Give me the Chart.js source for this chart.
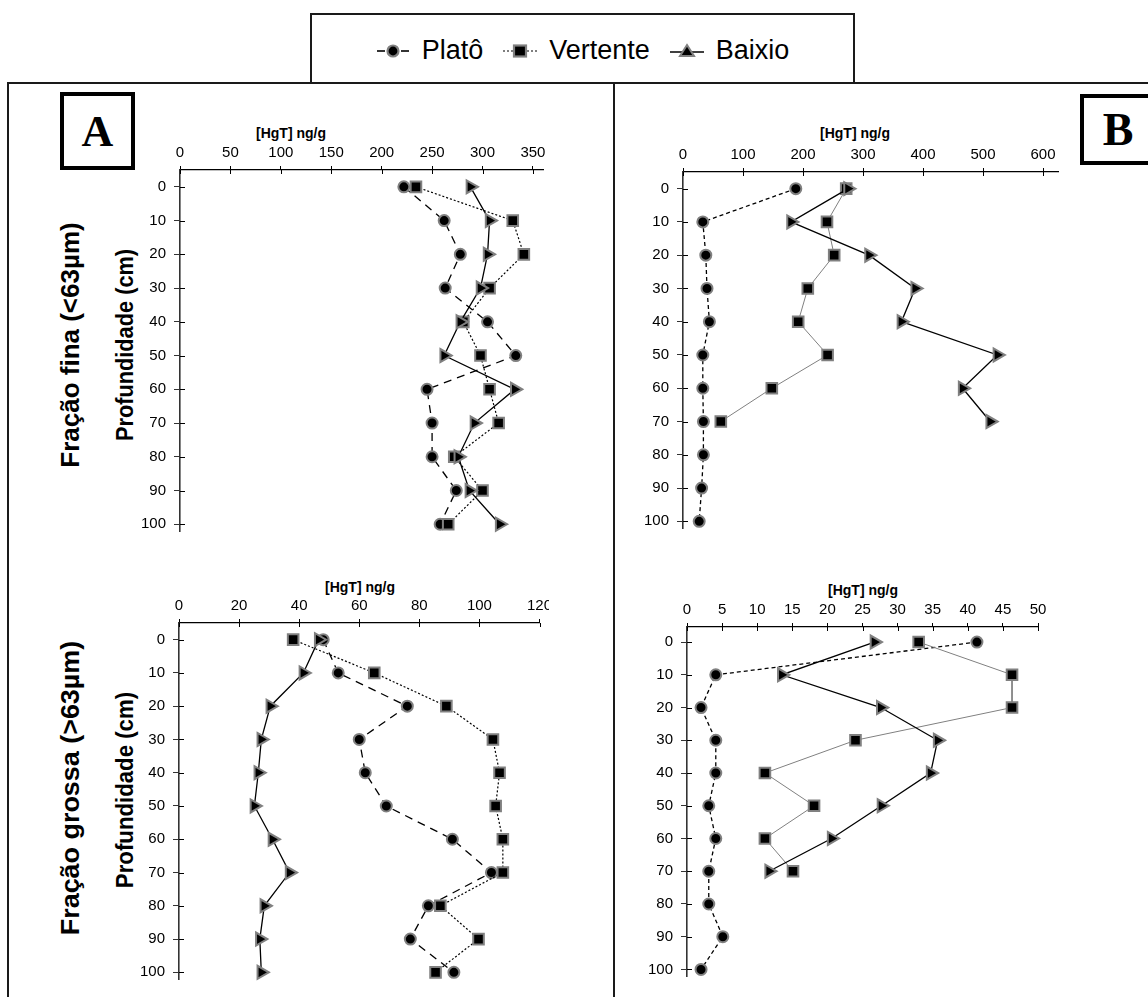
<!DOCTYPE html>
<html><head><meta charset="utf-8">
<script src="https://cdn.jsdelivr.net/npm/chart.js@4.4.0/dist/chart.umd.min.js"></script>
<style>
html,body{margin:0;padding:0;background:#fff;}
#page{position:relative;width:1148px;height:997px;overflow:hidden;background:#fff;font-family:"Liberation Sans",Arial,sans-serif;color:#000;}
canvas{position:absolute;}
.ln{position:absolute;background:#1a1a1a;}
.ttl{position:absolute;font-weight:bold;font-size:14px;transform:translate(-50%,-50%);white-space:nowrap;}
.rot{position:absolute;font-weight:bold;white-space:nowrap;font-family:"Liberation Sans Narrow","Arial Narrow","Liberation Sans",sans-serif;}
.letter{position:absolute;border:4px solid #000;box-sizing:border-box;font-family:"Liberation Serif","Times New Roman",serif;font-weight:bold;display:flex;align-items:center;justify-content:center;background:#fff;}
#legend{position:absolute;left:310px;top:13px;width:545px;height:71px;border:2px solid #1a1a1a;box-sizing:border-box;display:flex;align-items:center;justify-content:center;background:#fff;font-size:27px;padding-top:4px;}
#legend .it{display:flex;align-items:center;margin:0 10px;}
#legend svg{margin-right:12px;}
</style></head>
<body><div id="page">
  <div id="legend">
    <div class="it"><svg width="34" height="20"><line x1="1" y1="10" x2="9" y2="10" stroke="#000" stroke-width="1.6"/><line x1="25" y1="10" x2="33" y2="10" stroke="#000" stroke-width="1.6"/><circle cx="17" cy="10" r="5.5" fill="#000" stroke="#808080" stroke-width="2.2"/></svg><span>Platô</span></div>
    <div class="it"><svg width="34" height="20"><line x1="0" y1="10" x2="34" y2="10" stroke="#000" stroke-width="1.2" stroke-dasharray="2,2"/><rect x="11" y="4.5" width="12" height="11" fill="#000" stroke="#808080" stroke-width="2.2"/></svg><span>Vertente</span></div>
    <div class="it"><svg width="34" height="20"><line x1="0" y1="11" x2="34" y2="11" stroke="#000" stroke-width="1.4"/><polygon points="17,4 24,15 10,15" fill="#000" stroke="#808080" stroke-width="2"/></svg><span>Baixio</span></div>
  </div>
  <div class="ln" style="left:7px;top:82px;width:1141px;height:2px;"></div>
  <div class="ln" style="left:7px;top:82px;width:2px;height:915px;"></div>
  <div class="ln" style="left:613px;top:82px;width:2px;height:915px;"></div>

  <div class="letter" style="left:60px;top:92px;width:75px;height:78px;font-size:44px;">A</div>
  <div class="letter" style="left:1080px;top:94px;width:76px;height:71px;font-size:46px;">B</div>

  <div class="ttl" style="left:291px;top:133px;">[HgT] ng/g</div>
  <div class="ttl" style="left:855px;top:133px;">[HgT] ng/g</div>
  <div class="ttl" style="left:360px;top:587px;">[HgT] ng/g</div>
  <div class="ttl" style="left:863px;top:590px;">[HgT] ng/g</div>

  <div class="rot" id="r1" style="left:70px;top:345px;font-size:26px;" data-len="245">Fração fina (&lt;63µm)</div>
  <div class="rot" id="r2" style="left:125px;top:345px;font-size:23px;" data-len="192">Profundidade (cm)</div>
  <div class="rot" id="r3" style="left:70px;top:788px;font-size:26px;" data-len="295">Fração grossa (&gt;63µm)</div>
  <div class="rot" id="r4" style="left:125px;top:790px;font-size:23px;" data-len="196">Profundidade (cm)</div>

  <canvas id="cFineA"></canvas>
  <canvas id="cFineB"></canvas>
  <canvas id="cCoarseA"></canvas>
  <canvas id="cCoarseB"></canvas>
</div>
<script>
// ---- depth categories / tick labels ----
const depthTicks = [0, 10, 20, 30, 40, 50, 60, 70, 80, 90, 100];
const depthFull  = [0, 10, 20, 30, 40, 50, 60, 70, 80, 90, 100];
const depthShort = [0, 10, 20, 30, 40, 50, 60, 70];

const xTicksFineA   = [0, 50, 100, 150, 200, 250, 300, 350];
const xTicksFineB   = [0, 100, 200, 300, 400, 500, 600];
const xTicksCoarseA = [0, 20, 40, 60, 80, 100, 120];
const xTicksCoarseB = [0, 5, 10, 15, 20, 25, 30, 35, 40, 45, 50];

// ---- A: fine fraction (<63um), [HgT] ng/g ----
const platoFineA = [222, 262, 278, 263, 305, 333, 245, 250, 250, 274, 258];
const vertFineA  = [234, 330, 341, 307, 281, 298, 307, 316, 272, 300, 266];
const baixFineA  = [288, 307, 305, 298, 278, 262, 332, 292, 276, 287, 317];

// ---- B: fine fraction (<63um) ----
const platoFineB = [188, 33, 38, 40, 44, 33, 33, 34, 34, 31, 27];
const vertFineB  = [272, 240, 252, 208, 192, 241, 148, 63];
const baixFineB  = [275, 180, 310, 387, 364, 524, 466, 512];

// ---- A: coarse fraction (>63um) ----
const platoCoarseA = [48, 53, 76, 60, 62, 69, 91, 104, 83, 77, 91.5];
const vertCoarseA  = [38, 65, 89, 104.5, 106.7, 105.4, 107.8, 107.8, 87, 99.7, 85.4];
const baixCoarseA  = [46.5, 41.4, 30.4, 27.4, 26.4, 25.1, 31.1, 36.8, 28.4, 26.9, 27.4];

// ---- B: coarse fraction (>63um) ----
const platoCoarseB = [41.3, 4.1, 2, 4.1, 4.1, 3.1, 4.1, 3.1, 3.1, 5.1, 2];
const vertCoarseB  = [33, 46.3, 46.3, 24, 11.1, 18.1, 11.1, 15.1];
const baixCoarseB  = [26.7, 13.5, 27.6, 35.7, 34.7, 27.7, 20.6, 11.7];

function pts(xs, ys) { return xs.map((v, i) => ({x: v, y: ys[i]})); }

const innerTicks = {
  id: 'innerTicks',
  beforeDatasetsDraw(chart) {
    const ctx = chart.ctx, a = chart.chartArea;
    const xs = chart.scales.x, ys = chart.scales.y;
    ctx.save();
    ctx.strokeStyle = '#000';
    ctx.lineWidth = 1;
    ctx.beginPath();
    xs.ticks.forEach(t => { const p = Math.round(xs.getPixelForValue(t.value)) + 0.5; ctx.moveTo(p, a.top); ctx.lineTo(p, a.top + 4); });
    ys.ticks.forEach(t => { const p = Math.round(ys.getPixelForValue(t.value)) + 0.5; ctx.moveTo(a.left, p); ctx.lineTo(a.left + 5, p); });
    ctx.stroke();
    ctx.restore();
  }
};

function seriesSet(plato, pDepth, vert, vDepth, baix, bDepth, panelB) {
  const common = {showLine: true, tension: 0, clip: false, pointBackgroundColor: '#000', pointBorderColor: '#808080', pointBorderWidth: 2, pointHoverRadius: 0};
  return [
    Object.assign({}, common, {label: 'Platô', data: pts(plato, pDepth), borderColor: '#000', borderWidth: 1.3,
      borderDash: panelB ? [4, 3] : [8, 6], pointStyle: 'circle', pointRadius: 5.5, order: 3}),
    Object.assign({}, common, {label: 'Vertente', data: pts(vert, vDepth), borderColor: panelB ? '#808080' : '#000',
      borderWidth: panelB ? 1 : 1.2, borderDash: panelB ? [] : [2, 2], pointStyle: 'rect', pointRadius: 7.5, order: 2}),
    Object.assign({}, common, {label: 'Baixio', data: pts(baix, bDepth), borderColor: '#000', borderWidth: 1.3,
      pointStyle: 'triangle', pointRotation: 90, pointRadius: 7.5, order: 1})
  ];
}

function makePanel(id, area, xMax, xTicks, yMin, yMax, datasets, clipRight) {
  const AXW = 50, AXH = 40, PB = 12;
  const cv = document.getElementById(id);
  const w = Math.round(area.r - area.l) + AXW + clipRight;
  const h = Math.round(area.b - area.t) + AXH + PB;
  cv.width = w; cv.height = h;
  cv.style.width = w + 'px'; cv.style.height = h + 'px';
  cv.style.left = (area.l - AXW) + 'px';
  cv.style.top = (area.t - AXH) + 'px';
  const tickFont = {family: '"Liberation Sans", Arial, sans-serif', size: 15};
  new Chart(cv, {
    type: 'scatter',
    data: {datasets},
    options: {
      responsive: false, animation: false, devicePixelRatio: 1, events: [],
      layout: {padding: {left: 0, top: 0, right: clipRight, bottom: PB}},
      plugins: {legend: {display: false}, tooltip: {enabled: false}, title: {display: false}},
      scales: {
        x: {
          type: 'linear', position: 'top', min: 0, max: xMax, bounds: 'data',
          afterBuildTicks: s => { s.ticks = xTicks.map(v => ({value: v})); },
          afterFit: s => { s.height = AXH; s.paddingLeft = 0; s.paddingRight = 0; },
          grid: {drawOnChartArea: false, drawTicks: true, tickLength: 4, color: '#000', lineWidth: 1},
          border: {display: true, color: '#000', width: 1.3},
          ticks: {font: tickFont, color: '#000', padding: 4, maxRotation: 0, minRotation: 0, autoSkip: false,
                  callback: v => String(v)}
        },
        y: {
          type: 'linear', reverse: true, min: yMin, max: yMax, bounds: 'data',
          afterBuildTicks: s => { s.ticks = depthTicks.map(v => ({value: v})); },
          afterFit: s => { s.width = AXW; s.paddingTop = 0; s.paddingBottom = 0; },
          grid: {drawOnChartArea: false, drawTicks: true, tickLength: 6, color: '#333', lineWidth: 1},
          border: {display: true, color: '#333', width: 1.6},
          ticks: {font: tickFont, color: '#000', padding: 8, autoSkip: false, callback: v => String(v)}
        }
      }
    },
    plugins: [innerTicks]
  });
}

makePanel('cFineA',   {l: 180, r: 543, t: 170, b: 531}, 360, xTicksFineA, -5, 102,
  seriesSet(platoFineA, depthFull, vertFineA, depthFull, baixFineA, depthFull, false), 15);
makePanel('cFineB',   {l: 683, r: 1058, t: 172, b: 528}, 625, xTicksFineB, -5, 102,
  seriesSet(platoFineB, depthFull, vertFineB, depthShort, baixFineB, depthShort, true), 20);
makePanel('cCoarseA', {l: 179, r: 542, t: 623, b: 979}, 120, xTicksCoarseA, -5, 102,
  seriesSet(platoCoarseA, depthFull, vertCoarseA, depthFull, baixCoarseA, depthFull, false), 7);
makePanel('cCoarseB', {l: 687, r: 1038, t: 627, b: 976}, 50, xTicksCoarseB, -4.6, 102,
  seriesSet(platoCoarseB, depthFull, vertCoarseB, depthShort, baixCoarseB, depthShort, true), 15);

// rotated axis labels, stretched to the reference length
document.querySelectorAll('.rot').forEach(el => {
  const k = parseFloat(el.dataset.len) / el.offsetWidth;
  el.style.transform = 'translate(-50%,-50%) rotate(-90deg) scaleX(' + k.toFixed(3) + ')';
});
</script>
</body></html>
